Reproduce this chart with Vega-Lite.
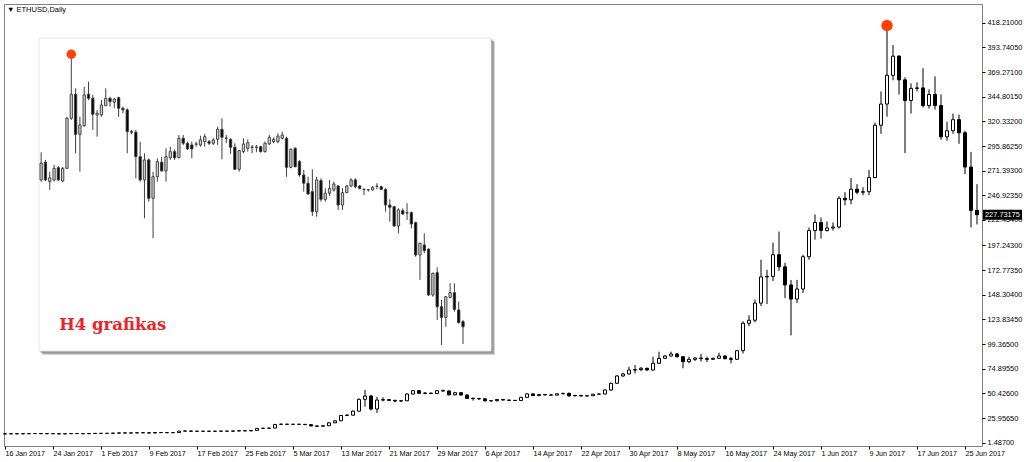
{
  "$schema": "https://vega.github.io/schema/vega-lite/v6.json",
  "width": 978,
  "height": 442,
  "autosize": {"type": "none"},
  "padding": {"left": 4, "top": 4, "right": 42, "bottom": 16},
  "background": "white",
  "title": {
    "text": "▼ ETHUSD,Daily",
    "anchor": "start",
    "frame": "group",
    "orient": "top",
    "offset": -15,
    "baseline": "alphabetic",
    "dx": 3,
    "font": "Liberation Sans",
    "fontSize": 7.5,
    "fontWeight": "normal",
    "color": "#000000"
  },
  "config": {
    "view": {"stroke": "#808080", "strokeWidth": 1},
    "scale": {"continuousPadding": 0},
    "axis": {"labelFont": "Liberation Sans", "labelColor": "#000000", "tickColor": "#000000", "grid": false, "domain": false, "labelOverlap": false, "labelFlush": false}
  },
  "datasets": {
    "daily": [
      {"d": "2017-01-16", "o": 10.2, "h": 10.5, "l": 10.0, "c": 10.3},
      {"d": "2017-01-17", "o": 10.3, "h": 10.6, "l": 10.1, "c": 10.4},
      {"d": "2017-01-18", "o": 10.4, "h": 10.6, "l": 10.2, "c": 10.3},
      {"d": "2017-01-19", "o": 10.3, "h": 10.5, "l": 10.1, "c": 10.4},
      {"d": "2017-01-20", "o": 10.4, "h": 10.7, "l": 10.2, "c": 10.5},
      {"d": "2017-01-21", "o": 10.5, "h": 10.8, "l": 10.3, "c": 10.6},
      {"d": "2017-01-22", "o": 10.6, "h": 10.8, "l": 10.3, "c": 10.4},
      {"d": "2017-01-23", "o": 10.4, "h": 10.6, "l": 10.2, "c": 10.5},
      {"d": "2017-01-24", "o": 10.5, "h": 10.7, "l": 10.3, "c": 10.4},
      {"d": "2017-01-25", "o": 10.4, "h": 10.6, "l": 10.1, "c": 10.2},
      {"d": "2017-01-26", "o": 10.2, "h": 10.5, "l": 10.1, "c": 10.4},
      {"d": "2017-01-27", "o": 10.4, "h": 10.7, "l": 10.3, "c": 10.6},
      {"d": "2017-01-28", "o": 10.6, "h": 10.8, "l": 10.4, "c": 10.5},
      {"d": "2017-01-29", "o": 10.5, "h": 10.7, "l": 10.3, "c": 10.4},
      {"d": "2017-01-30", "o": 10.4, "h": 10.7, "l": 10.3, "c": 10.6},
      {"d": "2017-01-31", "o": 10.6, "h": 10.9, "l": 10.5, "c": 10.8},
      {"d": "2017-02-01", "o": 10.8, "h": 11.0, "l": 10.6, "c": 10.7},
      {"d": "2017-02-02", "o": 10.7, "h": 10.9, "l": 10.5, "c": 10.8},
      {"d": "2017-02-03", "o": 10.8, "h": 11.1, "l": 10.7, "c": 11.0},
      {"d": "2017-02-04", "o": 11.0, "h": 11.3, "l": 10.9, "c": 11.2},
      {"d": "2017-02-05", "o": 11.2, "h": 11.4, "l": 11.0, "c": 11.1},
      {"d": "2017-02-06", "o": 11.1, "h": 11.3, "l": 10.9, "c": 11.2},
      {"d": "2017-02-07", "o": 11.2, "h": 11.5, "l": 11.1, "c": 11.4},
      {"d": "2017-02-08", "o": 11.4, "h": 11.6, "l": 11.2, "c": 11.3},
      {"d": "2017-02-09", "o": 11.3, "h": 11.5, "l": 10.9, "c": 11.1},
      {"d": "2017-02-10", "o": 11.1, "h": 11.8, "l": 11.0, "c": 11.6},
      {"d": "2017-02-11", "o": 11.6, "h": 11.8, "l": 11.4, "c": 11.5},
      {"d": "2017-02-12", "o": 11.5, "h": 11.7, "l": 11.3, "c": 11.4},
      {"d": "2017-02-13", "o": 11.4, "h": 11.6, "l": 11.2, "c": 11.5},
      {"d": "2017-02-14", "o": 11.5, "h": 13.2, "l": 11.4, "c": 13.0},
      {"d": "2017-02-15", "o": 13.0, "h": 13.3, "l": 12.8, "c": 13.1},
      {"d": "2017-02-16", "o": 13.1, "h": 13.3, "l": 12.8, "c": 12.9},
      {"d": "2017-02-17", "o": 12.9, "h": 13.1, "l": 12.7, "c": 12.8},
      {"d": "2017-02-18", "o": 12.8, "h": 13.0, "l": 12.6, "c": 12.9},
      {"d": "2017-02-19", "o": 12.9, "h": 13.1, "l": 12.7, "c": 12.8},
      {"d": "2017-02-20", "o": 12.8, "h": 13.0, "l": 12.6, "c": 12.9},
      {"d": "2017-02-21", "o": 12.9, "h": 13.2, "l": 12.7, "c": 13.0},
      {"d": "2017-02-22", "o": 13.0, "h": 13.2, "l": 12.8, "c": 12.9},
      {"d": "2017-02-23", "o": 12.9, "h": 13.2, "l": 12.7, "c": 13.1},
      {"d": "2017-02-24", "o": 13.1, "h": 13.5, "l": 13.0, "c": 13.4},
      {"d": "2017-02-25", "o": 13.4, "h": 13.6, "l": 13.1, "c": 13.2},
      {"d": "2017-02-26", "o": 13.2, "h": 13.8, "l": 13.1, "c": 13.6},
      {"d": "2017-02-27", "o": 13.6, "h": 15.9, "l": 13.5, "c": 15.7},
      {"d": "2017-02-28", "o": 15.7, "h": 16.2, "l": 15.3, "c": 15.8},
      {"d": "2017-03-01", "o": 15.8, "h": 16.3, "l": 15.5, "c": 16.0},
      {"d": "2017-03-02", "o": 16.0, "h": 19.9, "l": 15.9, "c": 19.6},
      {"d": "2017-03-03", "o": 19.6, "h": 20.6, "l": 19.2, "c": 19.9},
      {"d": "2017-03-04", "o": 19.9, "h": 20.2, "l": 19.5, "c": 19.7},
      {"d": "2017-03-05", "o": 19.7, "h": 20.0, "l": 19.4, "c": 19.8},
      {"d": "2017-03-06", "o": 19.8, "h": 20.1, "l": 19.5, "c": 19.7},
      {"d": "2017-03-07", "o": 19.7, "h": 20.0, "l": 19.3, "c": 19.4},
      {"d": "2017-03-08", "o": 19.4, "h": 19.6, "l": 17.8, "c": 18.1},
      {"d": "2017-03-09", "o": 18.1, "h": 18.4, "l": 17.6, "c": 17.8},
      {"d": "2017-03-10", "o": 17.8, "h": 18.7, "l": 17.6, "c": 18.3},
      {"d": "2017-03-11", "o": 18.3, "h": 21.7, "l": 18.1, "c": 21.2},
      {"d": "2017-03-12", "o": 21.2, "h": 23.7, "l": 21.0, "c": 23.2},
      {"d": "2017-03-13", "o": 23.2, "h": 29.0, "l": 23.0, "c": 28.5},
      {"d": "2017-03-14", "o": 28.5, "h": 29.8, "l": 27.8, "c": 28.8},
      {"d": "2017-03-15", "o": 28.8, "h": 33.4, "l": 28.5, "c": 32.8},
      {"d": "2017-03-16", "o": 32.8, "h": 45.5, "l": 32.5, "c": 44.5},
      {"d": "2017-03-17", "o": 44.5, "h": 53.8, "l": 37.2, "c": 47.8},
      {"d": "2017-03-18", "o": 47.8, "h": 49.0, "l": 33.5, "c": 34.9},
      {"d": "2017-03-19", "o": 34.9, "h": 47.0, "l": 31.0, "c": 43.8},
      {"d": "2017-03-20", "o": 43.8, "h": 46.5, "l": 42.5, "c": 44.2},
      {"d": "2017-03-21", "o": 44.2, "h": 44.8, "l": 42.8, "c": 43.5},
      {"d": "2017-03-22", "o": 43.5, "h": 44.0, "l": 41.8, "c": 42.8},
      {"d": "2017-03-23", "o": 42.8, "h": 43.8, "l": 42.0, "c": 43.1},
      {"d": "2017-03-24", "o": 43.1, "h": 50.5, "l": 42.8, "c": 49.8},
      {"d": "2017-03-25", "o": 49.8, "h": 53.8, "l": 49.5, "c": 53.1},
      {"d": "2017-03-26", "o": 53.1, "h": 53.8, "l": 50.0, "c": 50.5},
      {"d": "2017-03-27", "o": 50.5, "h": 51.8, "l": 49.5, "c": 50.7},
      {"d": "2017-03-28", "o": 50.7, "h": 51.2, "l": 49.8, "c": 50.3},
      {"d": "2017-03-29", "o": 50.3, "h": 53.6, "l": 50.0, "c": 53.1},
      {"d": "2017-03-30", "o": 53.1, "h": 54.2, "l": 52.3, "c": 52.8},
      {"d": "2017-03-31", "o": 52.8, "h": 53.2, "l": 48.5, "c": 49.0},
      {"d": "2017-04-01", "o": 49.0, "h": 51.6, "l": 48.5, "c": 51.1},
      {"d": "2017-04-02", "o": 51.1, "h": 51.8, "l": 48.3, "c": 48.8},
      {"d": "2017-04-03", "o": 48.8, "h": 49.3, "l": 44.8, "c": 45.5},
      {"d": "2017-04-04", "o": 45.5, "h": 46.3, "l": 43.2, "c": 45.3},
      {"d": "2017-04-05", "o": 45.3, "h": 46.0, "l": 43.8, "c": 45.0},
      {"d": "2017-04-06", "o": 45.0, "h": 45.5, "l": 42.5, "c": 43.0},
      {"d": "2017-04-07", "o": 43.0, "h": 43.8, "l": 42.3, "c": 43.2},
      {"d": "2017-04-08", "o": 43.2, "h": 44.8, "l": 42.3, "c": 44.4},
      {"d": "2017-04-09", "o": 44.4, "h": 44.7, "l": 43.5, "c": 43.8},
      {"d": "2017-04-10", "o": 43.8, "h": 44.1, "l": 43.2, "c": 43.5},
      {"d": "2017-04-11", "o": 43.5, "h": 43.9, "l": 42.9, "c": 43.3},
      {"d": "2017-04-12", "o": 43.3, "h": 47.0, "l": 43.0, "c": 46.5},
      {"d": "2017-04-13", "o": 46.5, "h": 50.5, "l": 46.0, "c": 49.9},
      {"d": "2017-04-14", "o": 49.9, "h": 50.3, "l": 47.8, "c": 48.2},
      {"d": "2017-04-15", "o": 48.2, "h": 49.6, "l": 47.9, "c": 49.3},
      {"d": "2017-04-16", "o": 49.3, "h": 49.6, "l": 48.5, "c": 48.9},
      {"d": "2017-04-17", "o": 48.9, "h": 49.3, "l": 48.2, "c": 48.7},
      {"d": "2017-04-18", "o": 48.7, "h": 50.5, "l": 48.5, "c": 50.0},
      {"d": "2017-04-19", "o": 50.0, "h": 51.3, "l": 49.5, "c": 50.3},
      {"d": "2017-04-20", "o": 50.3, "h": 51.5, "l": 47.0, "c": 48.0},
      {"d": "2017-04-21", "o": 48.0, "h": 48.9, "l": 47.5, "c": 48.4},
      {"d": "2017-04-22", "o": 48.4, "h": 48.7, "l": 47.5, "c": 47.8},
      {"d": "2017-04-23", "o": 47.8, "h": 48.4, "l": 47.4, "c": 48.1},
      {"d": "2017-04-24", "o": 48.1, "h": 49.9, "l": 47.9, "c": 49.6},
      {"d": "2017-04-25", "o": 49.6, "h": 50.2, "l": 49.2, "c": 49.8},
      {"d": "2017-04-26", "o": 49.8, "h": 54.3, "l": 49.5, "c": 53.8},
      {"d": "2017-04-27", "o": 53.8, "h": 61.0, "l": 53.0, "c": 60.4},
      {"d": "2017-04-28", "o": 60.4, "h": 68.5, "l": 59.8, "c": 67.7},
      {"d": "2017-04-29", "o": 67.7, "h": 71.0, "l": 66.9, "c": 69.7},
      {"d": "2017-04-30", "o": 69.7, "h": 76.9, "l": 69.0, "c": 73.6},
      {"d": "2017-05-01", "o": 73.6, "h": 78.5, "l": 70.3, "c": 74.0},
      {"d": "2017-05-02", "o": 74.0, "h": 76.5, "l": 72.5, "c": 75.4},
      {"d": "2017-05-03", "o": 75.4, "h": 75.8, "l": 73.2, "c": 73.6},
      {"d": "2017-05-04", "o": 73.6, "h": 86.8, "l": 73.3, "c": 80.3},
      {"d": "2017-05-05", "o": 80.3, "h": 91.8, "l": 79.5, "c": 85.2},
      {"d": "2017-05-06", "o": 85.2, "h": 88.5, "l": 84.5, "c": 87.5},
      {"d": "2017-05-07", "o": 87.5, "h": 91.8, "l": 87.0, "c": 89.5},
      {"d": "2017-05-08", "o": 89.5, "h": 90.5, "l": 86.0, "c": 86.8},
      {"d": "2017-05-09", "o": 86.8, "h": 87.5, "l": 75.3, "c": 81.9},
      {"d": "2017-05-10", "o": 81.9, "h": 86.8, "l": 80.3, "c": 84.2},
      {"d": "2017-05-11", "o": 84.2, "h": 86.5, "l": 82.5, "c": 85.5},
      {"d": "2017-05-12", "o": 85.5, "h": 89.5, "l": 81.9, "c": 84.9},
      {"d": "2017-05-13", "o": 84.9, "h": 86.8, "l": 81.5, "c": 84.2},
      {"d": "2017-05-14", "o": 84.2, "h": 85.8, "l": 84.0, "c": 85.2},
      {"d": "2017-05-15", "o": 85.2, "h": 90.8, "l": 84.5, "c": 87.5},
      {"d": "2017-05-16", "o": 87.5, "h": 88.0, "l": 84.0, "c": 84.9},
      {"d": "2017-05-17", "o": 84.9, "h": 86.5, "l": 80.3, "c": 84.2},
      {"d": "2017-05-18", "o": 84.2, "h": 93.5, "l": 83.5, "c": 92.8},
      {"d": "2017-05-19", "o": 92.8, "h": 122.0, "l": 90.0, "c": 120.0},
      {"d": "2017-05-20", "o": 120.0, "h": 128.0, "l": 117.0, "c": 123.0},
      {"d": "2017-05-21", "o": 123.0, "h": 143.5, "l": 121.0, "c": 140.0},
      {"d": "2017-05-22", "o": 140.0, "h": 183.0, "l": 137.0, "c": 166.0},
      {"d": "2017-05-23", "o": 166.0, "h": 173.0, "l": 139.0, "c": 166.5},
      {"d": "2017-05-24", "o": 166.5, "h": 200.0, "l": 162.0, "c": 188.0},
      {"d": "2017-05-25", "o": 188.0, "h": 211.0, "l": 172.0, "c": 176.0},
      {"d": "2017-05-26", "o": 176.0, "h": 180.0, "l": 145.0, "c": 158.0},
      {"d": "2017-05-27", "o": 158.0, "h": 163.0, "l": 108.0, "c": 144.0},
      {"d": "2017-05-28", "o": 144.0, "h": 163.0, "l": 140.0, "c": 154.0},
      {"d": "2017-05-29", "o": 154.0, "h": 188.0, "l": 150.0, "c": 186.0},
      {"d": "2017-05-30", "o": 186.0, "h": 215.0, "l": 183.0, "c": 212.0},
      {"d": "2017-05-31", "o": 212.0, "h": 228.0, "l": 203.0, "c": 220.0},
      {"d": "2017-06-01", "o": 220.0, "h": 225.0, "l": 204.0, "c": 212.0},
      {"d": "2017-06-02", "o": 212.0, "h": 221.0, "l": 211.0, "c": 214.5},
      {"d": "2017-06-03", "o": 214.5, "h": 220.0, "l": 212.0, "c": 215.5},
      {"d": "2017-06-04", "o": 215.5, "h": 246.0, "l": 214.0, "c": 244.0},
      {"d": "2017-06-05", "o": 244.0, "h": 250.0, "l": 237.0, "c": 242.5},
      {"d": "2017-06-06", "o": 242.5, "h": 264.0, "l": 238.0, "c": 253.0},
      {"d": "2017-06-07", "o": 253.0, "h": 258.0, "l": 248.0, "c": 250.0},
      {"d": "2017-06-08", "o": 250.0, "h": 255.0, "l": 247.0, "c": 250.5},
      {"d": "2017-06-09", "o": 250.5, "h": 272.0, "l": 247.0, "c": 264.5},
      {"d": "2017-06-10", "o": 264.5, "h": 319.0, "l": 264.0, "c": 316.5},
      {"d": "2017-06-11", "o": 316.5, "h": 350.0, "l": 308.0, "c": 337.5},
      {"d": "2017-06-12", "o": 337.5, "h": 413.0, "l": 325.0, "c": 366.0},
      {"d": "2017-06-13", "o": 366.0, "h": 396.0, "l": 361.0, "c": 385.0},
      {"d": "2017-06-14", "o": 385.0, "h": 386.0, "l": 347.0, "c": 361.5},
      {"d": "2017-06-15", "o": 361.5, "h": 364.0, "l": 289.0, "c": 341.0},
      {"d": "2017-06-16", "o": 341.0, "h": 358.0, "l": 328.0, "c": 353.0},
      {"d": "2017-06-17", "o": 353.0, "h": 359.0, "l": 350.0, "c": 353.5},
      {"d": "2017-06-18", "o": 353.5, "h": 373.0, "l": 334.0, "c": 336.0},
      {"d": "2017-06-19", "o": 336.0, "h": 352.0, "l": 333.0, "c": 347.0},
      {"d": "2017-06-20", "o": 347.0, "h": 365.0, "l": 332.0, "c": 336.0},
      {"d": "2017-06-21", "o": 336.0, "h": 347.0, "l": 302.0, "c": 305.0},
      {"d": "2017-06-22", "o": 305.0, "h": 320.0, "l": 301.0, "c": 311.0},
      {"d": "2017-06-23", "o": 311.0, "h": 328.0, "l": 308.0, "c": 322.0},
      {"d": "2017-06-24", "o": 322.0, "h": 327.0, "l": 298.0, "c": 309.0},
      {"d": "2017-06-25", "o": 309.0, "h": 311.0, "l": 268.0, "c": 275.0},
      {"d": "2017-06-26", "o": 275.0, "h": 290.0, "l": 215.0, "c": 232.0},
      {"d": "2017-06-27", "o": 232.0, "h": 258.0, "l": 218.0, "c": 227.73175}
    ],
    "h4": [
      {"i": 1, "o": 328.1, "h": 347.2, "l": 326.9, "c": 339.6},
      {"i": 2, "o": 340.3, "h": 341.9, "l": 327.4, "c": 328.1},
      {"i": 3, "o": 326.9, "h": 333.8, "l": 321.2, "c": 329.6},
      {"i": 4, "o": 328.1, "h": 338.4, "l": 326.9, "c": 336.1},
      {"i": 5, "o": 336.5, "h": 337.7, "l": 327.4, "c": 328.1},
      {"i": 6, "o": 327.4, "h": 337.0, "l": 326.7, "c": 336.1},
      {"i": 7, "o": 336.1, "h": 371.7, "l": 335.6, "c": 370.6},
      {"i": 8, "o": 370.6, "h": 414.8, "l": 369.5, "c": 387.2},
      {"i": 9, "o": 387.2, "h": 391.3, "l": 346.5, "c": 359.6},
      {"i": 10, "o": 359.6, "h": 371.7, "l": 333.8, "c": 366.0},
      {"i": 11, "o": 365.5, "h": 392.4, "l": 364.8, "c": 386.7},
      {"i": 12, "o": 387.2, "h": 395.9, "l": 383.3, "c": 384.4},
      {"i": 13, "o": 384.4, "h": 386.7, "l": 362.6, "c": 373.4},
      {"i": 14, "o": 372.9, "h": 376.4, "l": 357.9, "c": 374.1},
      {"i": 15, "o": 372.9, "h": 383.3, "l": 371.7, "c": 379.8},
      {"i": 16, "o": 379.3, "h": 391.3, "l": 379.1, "c": 384.4},
      {"i": 17, "o": 384.4, "h": 385.5, "l": 378.6, "c": 382.1},
      {"i": 18, "o": 381.7, "h": 384.8, "l": 377.5, "c": 383.9},
      {"i": 19, "o": 384.8, "h": 385.5, "l": 371.7, "c": 377.5},
      {"i": 20, "o": 377.5, "h": 378.6, "l": 374.1, "c": 376.4},
      {"i": 21, "o": 376.4, "h": 377.5, "l": 346.5, "c": 361.4},
      {"i": 22, "o": 361.4, "h": 362.6, "l": 359.6, "c": 361.0},
      {"i": 23, "o": 361.0, "h": 362.6, "l": 329.2, "c": 344.1},
      {"i": 24, "o": 344.1, "h": 354.5, "l": 326.9, "c": 328.1},
      {"i": 25, "o": 328.1, "h": 346.5, "l": 301.6, "c": 341.9},
      {"i": 26, "o": 341.9, "h": 343.0, "l": 313.1, "c": 315.4},
      {"i": 27, "o": 315.4, "h": 333.8, "l": 287.8, "c": 330.3},
      {"i": 28, "o": 330.3, "h": 343.0, "l": 326.9, "c": 340.7},
      {"i": 29, "o": 340.3, "h": 344.1, "l": 333.8, "c": 334.3},
      {"i": 30, "o": 334.3, "h": 349.9, "l": 326.9, "c": 344.1},
      {"i": 31, "o": 343.4, "h": 351.0, "l": 341.9, "c": 347.6},
      {"i": 32, "o": 347.6, "h": 349.2, "l": 341.9, "c": 343.4},
      {"i": 33, "o": 343.4, "h": 359.1, "l": 343.0, "c": 356.8},
      {"i": 34, "o": 356.8, "h": 359.1, "l": 352.2, "c": 353.4},
      {"i": 35, "o": 353.4, "h": 354.5, "l": 348.8, "c": 349.5},
      {"i": 36, "o": 352.2, "h": 354.5, "l": 343.0, "c": 349.5},
      {"i": 37, "o": 352.7, "h": 354.5, "l": 351.0, "c": 352.9},
      {"i": 38, "o": 352.2, "h": 358.6, "l": 351.0, "c": 355.7},
      {"i": 39, "o": 354.5, "h": 359.8, "l": 351.0, "c": 357.9},
      {"i": 40, "o": 354.5, "h": 355.7, "l": 352.2, "c": 353.4},
      {"i": 41, "o": 353.4, "h": 356.8, "l": 352.2, "c": 355.7},
      {"i": 42, "o": 356.1, "h": 364.8, "l": 352.2, "c": 363.0},
      {"i": 43, "o": 363.0, "h": 370.6, "l": 342.3, "c": 357.5},
      {"i": 44, "o": 356.8, "h": 359.1, "l": 353.4, "c": 357.0},
      {"i": 45, "o": 356.1, "h": 356.8, "l": 346.0, "c": 350.6},
      {"i": 46, "o": 350.6, "h": 353.4, "l": 335.0, "c": 335.4},
      {"i": 47, "o": 335.4, "h": 348.8, "l": 333.8, "c": 348.3},
      {"i": 48, "o": 347.6, "h": 356.8, "l": 346.5, "c": 352.9},
      {"i": 49, "o": 349.9, "h": 356.1, "l": 347.6, "c": 353.8},
      {"i": 50, "o": 350.8, "h": 352.2, "l": 346.5, "c": 350.6},
      {"i": 51, "o": 350.6, "h": 352.2, "l": 347.2, "c": 350.8},
      {"i": 52, "o": 351.0, "h": 351.5, "l": 346.9, "c": 347.6},
      {"i": 53, "o": 347.6, "h": 354.5, "l": 346.9, "c": 353.4},
      {"i": 54, "o": 352.9, "h": 359.1, "l": 352.2, "c": 357.5},
      {"i": 55, "o": 354.5, "h": 357.5, "l": 353.4, "c": 356.1},
      {"i": 56, "o": 354.5, "h": 360.3, "l": 353.4, "c": 358.4},
      {"i": 57, "o": 356.8, "h": 361.4, "l": 356.1, "c": 359.1},
      {"i": 58, "o": 356.8, "h": 357.9, "l": 330.3, "c": 336.8},
      {"i": 59, "o": 336.8, "h": 349.9, "l": 336.1, "c": 349.2},
      {"i": 60, "o": 349.9, "h": 350.6, "l": 336.8, "c": 337.2},
      {"i": 61, "o": 340.7, "h": 341.9, "l": 330.3, "c": 331.5},
      {"i": 62, "o": 331.5, "h": 335.0, "l": 320.0, "c": 325.8},
      {"i": 63, "o": 325.8, "h": 330.3, "l": 317.7, "c": 318.4},
      {"i": 64, "o": 320.0, "h": 335.4, "l": 303.2, "c": 306.2},
      {"i": 65, "o": 306.2, "h": 330.3, "l": 302.7, "c": 328.1},
      {"i": 66, "o": 327.6, "h": 329.2, "l": 313.1, "c": 314.7},
      {"i": 67, "o": 314.7, "h": 322.3, "l": 313.1, "c": 318.9},
      {"i": 68, "o": 318.9, "h": 328.1, "l": 317.0, "c": 322.3},
      {"i": 69, "o": 321.2, "h": 326.9, "l": 320.0, "c": 325.3},
      {"i": 70, "o": 323.9, "h": 324.6, "l": 307.4, "c": 310.8},
      {"i": 71, "o": 310.8, "h": 322.3, "l": 307.4, "c": 319.3},
      {"i": 72, "o": 319.3, "h": 324.6, "l": 318.9, "c": 323.9},
      {"i": 73, "o": 323.9, "h": 329.2, "l": 323.0, "c": 328.1},
      {"i": 74, "o": 328.1, "h": 329.2, "l": 322.3, "c": 323.4},
      {"i": 75, "o": 323.9, "h": 324.6, "l": 321.6, "c": 322.3},
      {"i": 76, "o": 321.6, "h": 322.3, "l": 317.7, "c": 321.4},
      {"i": 77, "o": 321.2, "h": 321.8, "l": 320.0, "c": 321.4},
      {"i": 78, "o": 321.2, "h": 323.9, "l": 320.7, "c": 323.0},
      {"i": 79, "o": 323.7, "h": 325.8, "l": 321.6, "c": 323.9},
      {"i": 80, "o": 323.4, "h": 324.1, "l": 321.2, "c": 321.6},
      {"i": 81, "o": 321.6, "h": 322.3, "l": 306.2, "c": 310.8},
      {"i": 82, "o": 310.8, "h": 314.7, "l": 299.3, "c": 309.2},
      {"i": 83, "o": 309.6, "h": 310.1, "l": 295.8, "c": 296.3},
      {"i": 84, "o": 296.3, "h": 308.5, "l": 291.3, "c": 307.4},
      {"i": 85, "o": 306.9, "h": 308.5, "l": 303.9, "c": 304.6},
      {"i": 86, "o": 305.5, "h": 312.0, "l": 300.5, "c": 305.3},
      {"i": 87, "o": 305.5, "h": 306.2, "l": 294.7, "c": 297.7},
      {"i": 88, "o": 298.6, "h": 299.3, "l": 275.1, "c": 276.3},
      {"i": 89, "o": 276.3, "h": 284.8, "l": 259.1, "c": 284.4},
      {"i": 90, "o": 283.2, "h": 291.3, "l": 277.5, "c": 279.3},
      {"i": 91, "o": 280.3, "h": 280.9, "l": 248.0, "c": 248.7},
      {"i": 92, "o": 248.7, "h": 264.1, "l": 247.5, "c": 263.7},
      {"i": 93, "o": 264.1, "h": 267.8, "l": 231.5, "c": 240.6},
      {"i": 94, "o": 240.6, "h": 245.3, "l": 214.2, "c": 233.3},
      {"i": 95, "o": 233.3, "h": 248.0, "l": 226.8, "c": 247.5},
      {"i": 96, "o": 247.1, "h": 256.8, "l": 246.4, "c": 250.3},
      {"i": 97, "o": 250.3, "h": 256.8, "l": 237.2, "c": 238.8},
      {"i": 98, "o": 238.4, "h": 244.1, "l": 229.2, "c": 229.6},
      {"i": 99, "o": 230.3, "h": 231.5, "l": 214.9, "c": 226.8}
    ]
  },
  "layer": [
    {
      "encoding": {
        "x": {
          "field": "d",
          "type": "temporal",
          "title": null,
          "scale": {
            "type": "utc",
            "nice": false,
            "padding": 0,
            "domain": [
              {"year": 2017, "month": 1, "date": 15, "hours": 20, "utc": true},
              {"year": 2017, "month": 6, "date": 27, "hours": 20, "utc": true}
            ]
          },
          "axis": {
            "orient": "bottom",
            "values": [
              {"year": 2017, "month": 1, "date": 16, "utc": true},
              {"year": 2017, "month": 1, "date": 24, "utc": true},
              {"year": 2017, "month": 2, "date": 1, "utc": true},
              {"year": 2017, "month": 2, "date": 9, "utc": true},
              {"year": 2017, "month": 2, "date": 17, "utc": true},
              {"year": 2017, "month": 2, "date": 25, "utc": true},
              {"year": 2017, "month": 3, "date": 5, "utc": true},
              {"year": 2017, "month": 3, "date": 13, "utc": true},
              {"year": 2017, "month": 3, "date": 21, "utc": true},
              {"year": 2017, "month": 3, "date": 29, "utc": true},
              {"year": 2017, "month": 4, "date": 6, "utc": true},
              {"year": 2017, "month": 4, "date": 14, "utc": true},
              {"year": 2017, "month": 4, "date": 22, "utc": true},
              {"year": 2017, "month": 4, "date": 30, "utc": true},
              {"year": 2017, "month": 5, "date": 8, "utc": true},
              {"year": 2017, "month": 5, "date": 16, "utc": true},
              {"year": 2017, "month": 5, "date": 24, "utc": true},
              {"year": 2017, "month": 6, "date": 1, "utc": true},
              {"year": 2017, "month": 6, "date": 9, "utc": true},
              {"year": 2017, "month": 6, "date": 17, "utc": true},
              {"year": 2017, "month": 6, "date": 25, "utc": true}
            ],
            "format": "%-d %b %Y",
            "labelAlign": "left",
            "labelBaseline": "top",
            "labelFontSize": 7.2,
            "labelPadding": 0,
            "labelOverlap": false,
            "tickSize": 3
          }
        },
        "y": {
          "field": "l",
          "type": "quantitative",
          "title": null,
          "scale": {"domain": [-1.787, 436.76], "nice": false, "zero": false, "padding": 0},
          "axis": {
            "orient": "right",
            "values": [1.487, 25.9565, 50.426, 74.8955, 99.365, 123.8345, 148.304, 172.7735, 197.243, 222.454, 246.9235, 271.393, 295.8625, 320.332, 344.8015, 369.271, 393.7405, 418.21],
            "format": ".5f",
            "labelFontSize": 7.4,
            "labelPadding": 2,
            "labelOverlap": false,
            "tickSize": 3
          }
        }
      },
      "layer": [
        {
          "data": {"name": "daily"},
          "mark": {"type": "rule", "color": "#000000", "strokeWidth": 1},
          "encoding": {"y2": {"field": "h"}}
        },
        {
          "data": {"name": "daily"},
          "mark": {"type": "bar", "size": 3, "stroke": "#000000", "strokeWidth": 1},
          "encoding": {
            "y": {"field": "o", "type": "quantitative"},
            "y2": {"field": "c"},
            "fill": {"condition": {"test": "datum.c < datum.o", "value": "#000000"}, "value": "#ffffff"}
          }
        },
        {
          "data": {"values": [{"d": "2017-06-12", "p": 415.4}]},
          "mark": {"type": "circle", "size": 130, "color": "#ff4000", "opacity": 1},
          "encoding": {"y": {"field": "p", "type": "quantitative"}}
        },
        {
          "data": {"values": [{"d": "2017-06-27", "p": 227.73175}]},
          "mark": {"type": "rect", "color": "#000000", "xOffset": 6, "x2Offset": 45, "yOffset": -5, "y2Offset": 5},
          "encoding": {
            "x2": {"field": "d"},
            "y": {"field": "p", "type": "quantitative"},
            "y2": {"field": "p"}
          }
        },
        {
          "data": {"values": [{"d": "2017-06-27", "p": 227.73175}]},
          "mark": {"type": "text", "color": "#ffffff", "align": "left", "baseline": "middle", "dx": 8, "font": "Liberation Sans", "fontSize": 7.4},
          "encoding": {
            "y": {"field": "p", "type": "quantitative"},
            "text": {"field": "p", "type": "quantitative", "format": ".5f"}
          }
        }
      ]
    },
    {
      "layer": [
        {
          "data": {"values": [{}]},
          "mark": {"type": "rect", "color": "#d4d4d4", "xOffset": 4, "x2Offset": 4, "yOffset": 4, "y2Offset": 4},
          "encoding": {
            "x": {"datum": 0.5, "type": "quantitative", "axis": null, "scale": {"domain": [0.5, 105.5], "range": [35, 487], "nice": false, "zero": false, "padding": 0}},
            "x2": {"datum": 105.5},
            "y": {"datum": 426.0, "type": "quantitative", "axis": null, "scale": {"domain": [210.07, 426.0], "range": [347, 34], "nice": false, "zero": false, "padding": 0}},
            "y2": {"datum": 210.07}
          }
        },
        {
          "data": {"values": [{}]},
          "mark": {"type": "rect", "color": "#a6a6a6", "xOffset": 3, "x2Offset": 3, "yOffset": 3, "y2Offset": 3},
          "encoding": {
            "x": {"datum": 0.5, "type": "quantitative", "axis": null},
            "x2": {"datum": 105.5},
            "y": {"datum": 426.0, "type": "quantitative", "axis": null},
            "y2": {"datum": 210.07}
          }
        },
        {
          "data": {"values": [{}]},
          "mark": {"type": "rect", "color": "#8c8c8c", "xOffset": 1.5, "x2Offset": 1.5, "yOffset": 1.5, "y2Offset": 1.5},
          "encoding": {
            "x": {"datum": 0.5, "type": "quantitative", "axis": null},
            "x2": {"datum": 105.5},
            "y": {"datum": 426.0, "type": "quantitative", "axis": null},
            "y2": {"datum": 210.07}
          }
        },
        {
          "data": {"values": [{}]},
          "mark": {"type": "rect", "fill": "#ffffff", "stroke": "#e6e6e6", "strokeWidth": 1},
          "encoding": {
            "x": {"datum": 0.5, "type": "quantitative", "axis": null},
            "x2": {"datum": 105.5},
            "y": {"datum": 426.0, "type": "quantitative", "axis": null},
            "y2": {"datum": 210.07}
          }
        },
        {
          "data": {"name": "h4"},
          "mark": {"type": "rule", "color": "#404040", "strokeWidth": 1},
          "encoding": {
            "x": {"field": "i", "type": "quantitative", "axis": null},
            "y": {"field": "l", "type": "quantitative", "axis": null},
            "y2": {"field": "h"}
          }
        },
        {
          "data": {"name": "h4"},
          "mark": {"type": "bar", "size": 2.3, "stroke": "#3a3a3a", "strokeWidth": 0.9},
          "encoding": {
            "x": {"field": "i", "type": "quantitative", "axis": null},
            "y": {"field": "o", "type": "quantitative", "axis": null},
            "y2": {"field": "c"},
            "fill": {"condition": {"test": "datum.c < datum.o", "value": "#000000"}, "value": "#cfcfcf"}
          }
        },
        {
          "data": {"values": [{"i": 8, "p": 414.8}]},
          "mark": {"type": "circle", "size": 90, "color": "#ff4000", "opacity": 1},
          "encoding": {
            "x": {"field": "i", "type": "quantitative", "axis": null},
            "y": {"field": "p", "type": "quantitative", "axis": null}
          }
        },
        {
          "data": {"values": [{"t": "H4 grafikas"}]},
          "mark": {"type": "text", "align": "left", "baseline": "alphabetic", "font": "DejaVu Serif", "fontWeight": "bold", "fontSize": 16.5, "color": "#ec2329"},
          "encoding": {
            "x": {"datum": 5.2, "type": "quantitative", "axis": null},
            "y": {"datum": 224.6, "type": "quantitative", "axis": null},
            "text": {"field": "t"}
          }
        }
      ]
    }
  ],
  "resolve": {"scale": {"x": "independent", "y": "independent"}}
}
